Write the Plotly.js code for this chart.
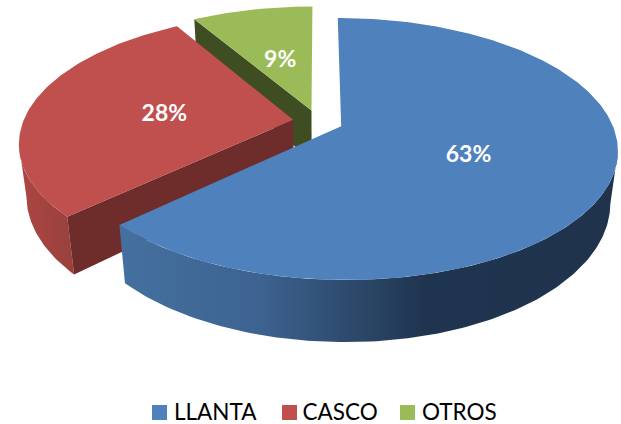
<!DOCTYPE html>
<html><head><meta charset="utf-8">
<script src="https://cdn.plot.ly/plotly-3.0.1.min.js"></script>
<style>html,body{margin:0;padding:0;background:#fff}#c{width:621px;height:424px}</style>
</head><body><div id="c"></div>
<script>
// Data
const categories = ['LLANTA', 'CASCO', 'OTROS'];
const shares = [63, 28.5, 8.5];
const labels = ['63%', '28%', '9%'];

// Styles
const topColors = ['#4f81bd', '#c0504d', '#9bbb59'];
const cutColors = ['#1f334d', '#6e2c2b', '#3f4d22'];
const wallScales = [
  [[0, '#44709f'], [0.28, '#3d6391'], [0.62, '#1f344e'], [1, '#1f334d']],
  [[0, '#ad4643'], [1, '#98403d']],
  null
];

// Projection of the tilted, exploded pie onto the page (page pixels are the axis units)
const view = {cx: 318, cy: 121.5, sx: 270, sy: 125.4, persp: 0.173, depth: 51, zShrink: 0.025, explode: 0.093, thickness: 1, labelR: 0.49, labelDrop: 4};
const legendKeyX = [159.5, 289.5, 407.5];
const legendTextX = [174, 302.5, 422];
const legendKeyY = 412.5;
const legendTextY = 414;
const total = shares.reduce((a, b) => a + b, 0);

function project(X, Y, Z) {
  const d = 1 - view.persp * Y;
  return [view.cx + view.sx * X / (d + view.zShrink * Z) , view.cy + (view.sy * Y + view.depth * Z) / d];
}
function point(a, r, mid, Z) {
  const e = view.explode;
  return project(e * Math.sin(mid) + r * Math.sin(a), -e * Math.cos(mid) - r * Math.cos(a), Z);
}
function arc(a0, a1, mid, Z) {
  const pts = [], n = Math.max(8, Math.ceil((a1 - a0) * 60));
  for (let i = 0; i <= n; i++) pts.push(point(a0 + (a1 - a0) * i / n, 1, mid, Z));
  return pts;
}
function poly(pts, color, gradient, gradStart, gradStop) {
  const xs = pts.map(p => p[0]).concat(pts[0][0]);
  const ys = pts.map(p => p[1]).concat(pts[0][1]);
  const t = {x: xs, y: ys, type: 'scatter', mode: 'lines', fill: 'toself', line: {width: 0, color: color},
    hoverinfo: 'skip', showlegend: false};
  if (gradient) {
    t.fillgradient = {type: 'horizontal', colorscale: gradient, start: gradStart, stop: gradStop};
  } else t.fillcolor = color;
  return t;
}
// The angle on a slice's rim where the outline turns, so the wall ends on the silhouette
function turnAngle(s, wantMax) {
  let best = s.a0, bestX = wantMax ? -Infinity : Infinity;
  for (let k = 0; k <= 400; k++) {
    const a = s.a0 + (s.a1 - s.a0) * k / 400, x = point(a, 1, s.mid, 0)[0];
    if (wantMax ? x > bestX : x < bestX) { bestX = x; best = a; }
  }
  return best;
}

// Slices run clockwise from 12 o'clock
let acc = 0;
const slices = shares.map((v, i) => {
  const a0 = acc / total * 2 * Math.PI; acc += v;
  const a1 = acc / total * 2 * Math.PI;
  return {i, a0, a1, mid: (a0 + a1) / 2};
});

const traces = [];
[2, 1, 0].forEach(i => {
  const s = slices[i], T = view.thickness;
  const topArc = arc(s.a0, s.a1, s.mid, 0);
  if (wallScales[i]) {
    // visible rim wall: blue from its rightmost point to its end, red from its start to its leftmost point
    const from = i === 0 ? turnAngle(s, true) : s.a0;
    const to = i === 0 ? s.a1 : turnAngle(s, false);
    const up = arc(from, to, s.mid, 0), low = arc(from, to, s.mid, T);
    const xs = up.concat(low).map(p => p[0]);
    traces.push(poly(up.concat(low.slice().reverse()), wallScales[i][0][1], wallScales[i], Math.min(...xs), Math.max(...xs)));
  }
  // only the leading cut face of the two rear slices turns toward the viewer
  if (s.a0 > 1e-6) {
    traces.push(poly([point(s.a0, 0, s.mid, 0), point(s.a0, 1, s.mid, 0), point(s.a0, 1, s.mid, T), point(s.a0, 0, s.mid, T)], cutColors[i]));
  }
  traces.push(poly([point(0, 0, s.mid, 0)].concat(topArc), topColors[i]));
});

// Percent labels
const lab = slices.map(s => point(s.mid, view.labelR, s.mid, 0));
traces.push({x: lab.map(p => p[0]), y: lab.map(p => p[1] + view.labelDrop), text: labels, type: 'scatter', mode: 'text',
  textposition: 'middle center', textfont: {family: 'Lato, sans-serif', size: 23, color: '#ffffff', weight: 700},
  hoverinfo: 'skip', showlegend: false});

// Legend keys and names
traces.push({x: legendKeyX, y: categories.map(() => legendKeyY), type: 'scatter', mode: 'markers',
  marker: {symbol: 'square', size: 15, color: topColors}, hoverinfo: 'skip', showlegend: false});
traces.push({x: legendTextX, y: categories.map(() => legendTextY), text: categories, type: 'scatter', mode: 'text',
  textposition: 'middle right', textfont: {family: 'Lato, sans-serif', size: 22.5, color: '#000000'},
  hoverinfo: 'skip', showlegend: false});

Plotly.newPlot('c', traces, {
  width: 621, height: 424, margin: {l: 0, r: 0, t: 0, b: 0},
  paper_bgcolor: '#ffffff', plot_bgcolor: '#ffffff',
  xaxis: {range: [0, 621], visible: false, fixedrange: true},
  yaxis: {range: [424, 0], visible: false, fixedrange: true},
  showlegend: false
}, {displayModeBar: false, staticPlot: true});
</script></body></html>
